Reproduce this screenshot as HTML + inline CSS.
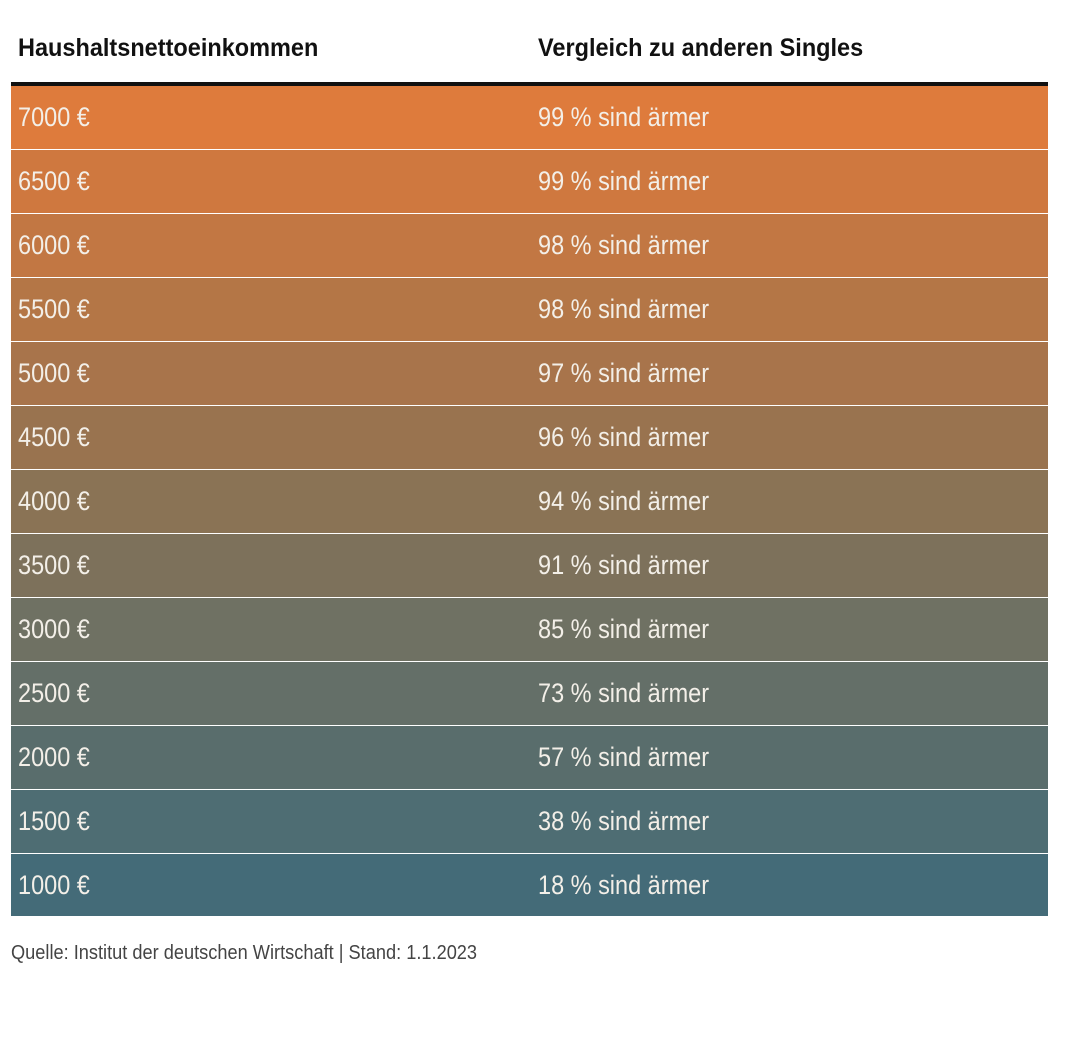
<!DOCTYPE html>
<html><head><meta charset="utf-8"><style>
body{margin:0;width:1080px;height:1048px;background:#fff;position:relative;font-family:"Liberation Sans",sans-serif;overflow:hidden}
.h{position:absolute;top:34px;font-weight:bold;font-size:25px;color:#111;transform:scaleX(0.94);transform-origin:0 0;white-space:nowrap}
.bar{position:absolute;left:11px;top:82px;width:1037px;height:4px;background:#111}
.row{position:absolute;left:11px;width:1037px;height:63px;color:#f3efe8;font-size:27px}
.row span{position:absolute;top:16px;transform:scaleX(0.87);transform-origin:0 0;white-space:nowrap}
.a{left:7px}.b{left:527px}
.f{position:absolute;left:11px;top:942px;font-size:20px;color:#444;transform:scaleX(0.91);transform-origin:0 0;white-space:nowrap}
</style></head><body>
<div class="h" style="left:18px">Haushaltsnettoeinkommen</div>
<div class="h" style="left:538px">Vergleich zu anderen Singles</div>
<div class="bar"></div>
<div class="row" style="top:86px;background:#DE7B3C"><span class="a">7000 €</span><span class="b">99 % sind ärmer</span></div>
<div class="row" style="top:150px;background:#CF783F"><span class="a">6500 €</span><span class="b">99 % sind ärmer</span></div>
<div class="row" style="top:214px;background:#C27743"><span class="a">6000 €</span><span class="b">98 % sind ärmer</span></div>
<div class="row" style="top:278px;background:#B47646"><span class="a">5500 €</span><span class="b">98 % sind ärmer</span></div>
<div class="row" style="top:342px;background:#A8744B"><span class="a">5000 €</span><span class="b">97 % sind ärmer</span></div>
<div class="row" style="top:406px;background:#99734F"><span class="a">4500 €</span><span class="b">96 % sind ärmer</span></div>
<div class="row" style="top:470px;background:#8A7355"><span class="a">4000 €</span><span class="b">94 % sind ärmer</span></div>
<div class="row" style="top:534px;background:#7D715B"><span class="a">3500 €</span><span class="b">91 % sind ärmer</span></div>
<div class="row" style="top:598px;background:#6F7163"><span class="a">3000 €</span><span class="b">85 % sind ärmer</span></div>
<div class="row" style="top:662px;background:#646F68"><span class="a">2500 €</span><span class="b">73 % sind ärmer</span></div>
<div class="row" style="top:726px;background:#596D6C"><span class="a">2000 €</span><span class="b">57 % sind ärmer</span></div>
<div class="row" style="top:790px;background:#4E6D73"><span class="a">1500 €</span><span class="b">38 % sind ärmer</span></div>
<div class="row" style="top:854px;background:#446B78;height:62px"><span class="a">1000 €</span><span class="b">18 % sind ärmer</span></div>
<div class="f">Quelle: Institut der deutschen Wirtschaft | Stand: 1.1.2023</div>
</body></html>
